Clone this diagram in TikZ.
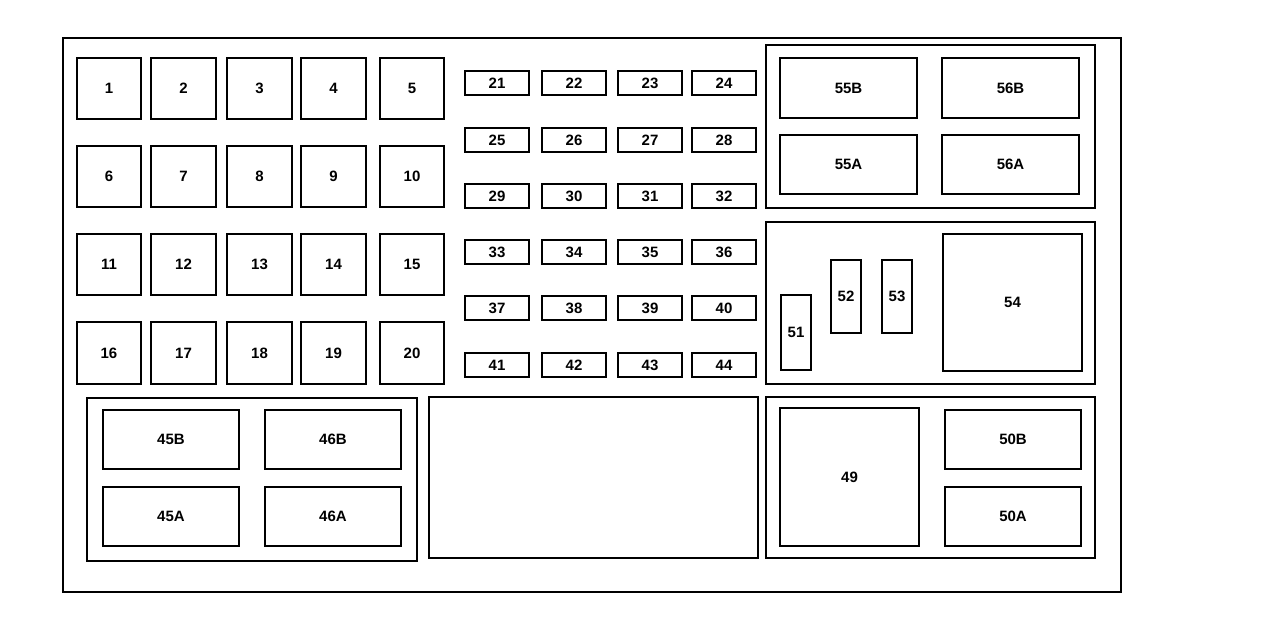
\documentclass[tikz,border=0pt]{standalone}
\usepackage{fontspec}
\setmainfont{Liberation Sans}
\usepackage{tikz}

\tikzset{
  box/.style={draw, line width=2.5pt},
  fuse/.style={draw, line width=2.5pt, font=\bfseries\fontsize{15}{18}\selectfont}
}
% a labelled box from corner (x1,y1) to (x2,y2)
\newcommand{\fusebox}[6]{%
  \draw[fuse] (#2,#3) rectangle (#4,#5);
  \node[font=\bfseries\fontsize{15}{18}\selectfont] (#1) at ({(#2+#4)/2},{(#3+#5)/2}) {#6};
}

\begin{document}
\begin{tikzpicture}[x=1pt, y=-1pt]
    \useasboundingbox (0,0) rectangle (1287,624);
    \draw[box] (63,38) rectangle (1121,592);

    % large fuses 1-20
    \foreach \x/\xx [count=\c from 0] in {77/141, 151/216, 227/292, 301/366, 380/444} {
        \foreach \y/\yy [count=\r from 0] in {58/119, 146/207, 234/295, 322/384} {
            \pgfmathtruncatemacro{\n}{\r*5+\c+1}
            \fusebox{f\n}{\x}{\y}{\xx}{\yy}{\n}
        }
    }

    % small fuses 21-44
    \foreach \x/\xx [count=\c from 0] in {465/529, 542/606, 618/682, 692/756} {
        \foreach \y [count=\r from 0] in {71, 128, 184, 240, 296, 353} {
            \pgfmathtruncatemacro{\n}{\r*4+\c+21}
            \fusebox{f\n}{\x}{\y}{\xx}{\y+24}{\n}
        }
    }

    % top right group
    \draw[box] (766,45) rectangle (1095,208);
    \fusebox{r55B}{780}{58}{917}{118}{55B}
    \fusebox{r56B}{942}{58}{1079}{118}{56B}
    \fusebox{r55A}{780}{135}{917}{194}{55A}
    \fusebox{r56A}{942}{135}{1079}{194}{56A}

    % middle right group
    \draw[box] (766,222) rectangle (1095,384);
    \fusebox{f51}{781}{295}{811}{370}{51}
    \fusebox{f52}{831}{260}{861}{333}{52}
    \fusebox{f53}{882}{260}{912}{333}{53}
    \fusebox{r54}{943}{234}{1082}{371}{54}

    % bottom right group
    \draw[box] (766,397) rectangle (1095,558);
    \fusebox{r49}{780}{408}{919}{546}{49}
    \fusebox{r50B}{945}{410}{1081}{469}{50B}
    \fusebox{r50A}{945}{487}{1081}{546}{50A}

    % bottom left group
    \draw[box] (87,398) rectangle (417,561);
    \fusebox{r45B}{103}{410}{239}{469}{45B}
    \fusebox{r46B}{265}{410}{401}{469}{46B}
    \fusebox{r45A}{103}{487}{239}{546}{45A}
    \fusebox{r46A}{265}{487}{401}{546}{46A}

    % empty centre block
    \draw[box] (429,397) rectangle (758,558);
\end{tikzpicture}
\end{document}
